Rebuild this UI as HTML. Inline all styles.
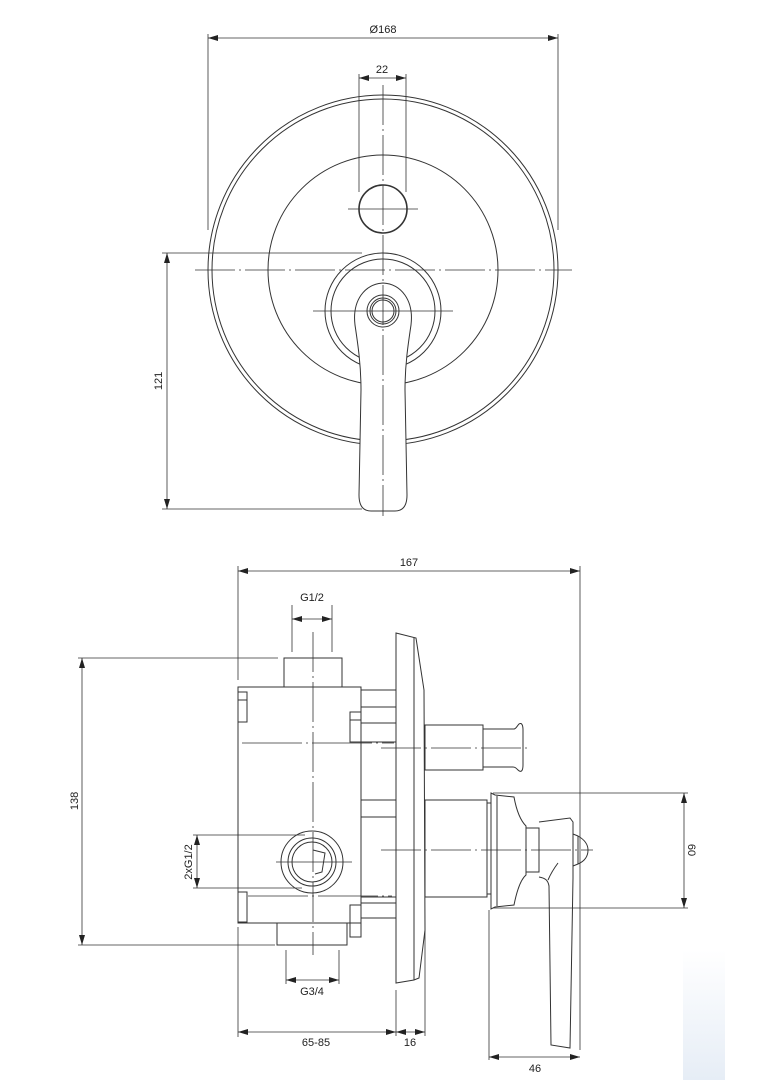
<!DOCTYPE html>
<html><head><meta charset="utf-8"><style>
html,body{margin:0;padding:0;background:#fff;}
svg{display:block;}
text{font-family:"Liberation Sans",sans-serif;font-size:11px;fill:#222;}
</style></head><body>
<svg width="772" height="1080" viewBox="0 0 772 1080" xmlns="http://www.w3.org/2000/svg">
<defs>
<marker id="a" viewBox="0 0 10 6" refX="10" refY="3" markerWidth="10" markerHeight="6" orient="auto-start-reverse" markerUnits="userSpaceOnUse"><path d="M0,0 L10,3 L0,6 z" fill="#222"/></marker>
<linearGradient id="wm" x1="0" y1="0" x2="0" y2="1"><stop offset="0" stop-color="#fff"/><stop offset="1" stop-color="#e6edf6"/></linearGradient>
</defs>
<rect x="683" y="950" width="42" height="130" fill="url(#wm)"/>
<g fill="none" stroke="#333" stroke-width="1">
<!-- TOP VIEW -->
<circle cx="383" cy="270" r="175"/>
<circle cx="383" cy="270" r="171"/>
<circle cx="383" cy="270" r="115"/>
<circle cx="383" cy="209" r="24" stroke-width="1.6"/>
<circle cx="383" cy="311" r="58"/>
<circle cx="383" cy="311" r="52"/>
<path d="M355,325 C352,300 365,284 383,283 C401,284 414,300 411,325 C408,345 405,365 405,390 L407,495 C407,507 402,511 395,511 L371,511 C364,511 359,507 359,495 L361,390 C361,365 358,345 355,325 Z" fill="#fff"/>
<circle cx="383" cy="311" r="16"/>
<circle cx="383" cy="311" r="13"/>
<circle cx="383" cy="311" r="11"/>
<g stroke-width="0.8">
<line x1="383" y1="85" x2="383" y2="516" stroke-dasharray="40,4,2,4"/>
<line x1="195" y1="270" x2="572" y2="270" stroke-dasharray="40,4,2,4"/>
<line x1="348" y1="209" x2="418" y2="209"/>
<line x1="313" y1="311" x2="453" y2="311"/>
</g>
<g stroke-width="0.8">
<line x1="208" y1="34" x2="208" y2="230"/>
<line x1="558" y1="34" x2="558" y2="230"/>
<line x1="208" y1="38" x2="558" y2="38" marker-start="url(#a)" marker-end="url(#a)"/>
<line x1="359" y1="74" x2="359" y2="192"/>
<line x1="406" y1="74" x2="406" y2="192"/>
<line x1="359" y1="78" x2="406" y2="78" marker-start="url(#a)" marker-end="url(#a)"/>
<line x1="162" y1="253" x2="362" y2="253"/>
<line x1="162" y1="509" x2="362" y2="509"/>
<line x1="167" y1="253" x2="167" y2="509" marker-start="url(#a)" marker-end="url(#a)"/>
</g>

<!-- BOTTOM VIEW -->
<rect x="284" y="658" width="58" height="29"/>
<rect x="238" y="687" width="123" height="236"/>
<rect x="277" y="923" width="70" height="22"/>
<rect x="238" y="692" width="9" height="30"/>
<line x1="238" y1="700" x2="247" y2="700"/>
<rect x="238" y="892" width="9" height="30"/>
<rect x="350" y="712" width="11" height="30"/>
<line x1="350" y1="720" x2="361" y2="720"/>
<rect x="350" y="905" width="11" height="32"/>
<line x1="361" y1="690" x2="396" y2="690"/>
<line x1="361" y1="707" x2="396" y2="707"/>
<line x1="361" y1="723" x2="396" y2="723"/>
<line x1="361" y1="742" x2="396" y2="742"/>
<line x1="361" y1="800" x2="396" y2="800"/>
<line x1="361" y1="817" x2="396" y2="817"/>
<line x1="361" y1="897" x2="396" y2="897"/>
<line x1="361" y1="903" x2="396" y2="903"/>
<line x1="361" y1="918" x2="396" y2="918"/>
<circle cx="312" cy="862" r="31" fill="#fff"/>
<circle cx="312" cy="862" r="24"/>
<circle cx="312" cy="862" r="20"/>
<path d="M313,850 L325,853 L322,872 L315,874"/>
<path d="M396,633 L416,638 L424,690 L425,930 L419,978 L414,980 L396,983 Z" fill="#fff"/>
<line x1="414" y1="638" x2="414" y2="980"/>
<rect x="425" y="725" width="58" height="45"/>
<path d="M483,729 L514,729 C516,729 517,726 519,724 C522,722 523,726 523,730 L523,765 C523,771 521,773 518,770 C516,768 515,767 513,767 L483,767"/>
<rect x="425" y="800" width="62" height="97"/>
<rect x="487" y="803" width="4" height="91"/>
<path d="M491,793 L495,795 L514,797 C516,808 520,820 526,826 L526,875 C520,880 516,895 514,905 L495,907 L491,909 Z"/>
<line x1="497" y1="796" x2="497" y2="906"/>
<rect x="526" y="828" width="13" height="44"/>
<path d="M539,822 L570,818 L573,822 L573,878 L570,1048 L551,1045 L549,886 C548,880 545,878 539,877"/>
<path d="M548,880 C551,873 555,867 558,863"/>
<path d="M573,834 L578,836 C585,840 588,845 588,850 C588,856 585,861 578,864 L573,866"/>
<line x1="578" y1="836" x2="578" y2="864"/>
<g stroke-width="0.8">
<line x1="313" y1="632" x2="313" y2="955" stroke-dasharray="40,4,2,4"/>
<line x1="242" y1="743" x2="394" y2="743" stroke-dasharray="60,4,2,4"/>
<line x1="381" y1="748" x2="528" y2="748" stroke-dasharray="40,4,2,4"/>
<line x1="381" y1="850" x2="593" y2="850" stroke-dasharray="40,4,2,4"/>
<line x1="248" y1="896" x2="392" y2="896" stroke-dasharray="60,4,2,4"/>
<line x1="276" y1="862" x2="352" y2="862"/>
</g>
<g stroke-width="0.8">
<line x1="238" y1="566" x2="238" y2="680"/>
<line x1="238" y1="927" x2="238" y2="1037"/>
<line x1="580" y1="566" x2="580" y2="1050"/>
<line x1="238" y1="571" x2="580" y2="571" marker-start="url(#a)" marker-end="url(#a)"/>
<line x1="292" y1="605" x2="292" y2="652"/>
<line x1="332" y1="605" x2="332" y2="652"/>
<line x1="292" y1="619" x2="332" y2="619" marker-start="url(#a)" marker-end="url(#a)"/>
<line x1="78" y1="658" x2="278" y2="658"/>
<line x1="78" y1="945" x2="275" y2="945"/>
<line x1="82" y1="658" x2="82" y2="945" marker-start="url(#a)" marker-end="url(#a)"/>
<line x1="193" y1="835" x2="305" y2="835"/>
<line x1="193" y1="888" x2="302" y2="888"/>
<line x1="197" y1="835" x2="197" y2="888" marker-start="url(#a)" marker-end="url(#a)"/>
<line x1="286" y1="950" x2="286" y2="984"/>
<line x1="339" y1="950" x2="339" y2="984"/>
<line x1="286" y1="980" x2="339" y2="980" marker-start="url(#a)" marker-end="url(#a)"/>
<line x1="396" y1="990" x2="396" y2="1036"/>
<line x1="425" y1="930" x2="425" y2="1036"/>
<line x1="238" y1="1032" x2="396" y2="1032" marker-start="url(#a)" marker-end="url(#a)"/>
<line x1="396" y1="1032" x2="425" y2="1032" marker-start="url(#a)" marker-end="url(#a)"/>
<line x1="489" y1="910" x2="489" y2="1060"/>
<line x1="489" y1="1057" x2="580" y2="1057" marker-start="url(#a)" marker-end="url(#a)"/>
<line x1="493" y1="793" x2="688" y2="793"/>
<line x1="493" y1="908" x2="688" y2="908"/>
<line x1="684" y1="793" x2="684" y2="908" marker-start="url(#a)" marker-end="url(#a)"/>
</g>
</g>
<text x="383" y="33" text-anchor="middle">Ø168</text>
<text x="382" y="73" text-anchor="middle">22</text>
<text transform="translate(162,381) rotate(-90)" text-anchor="middle">121</text>
<text x="409" y="566" text-anchor="middle">167</text>
<text x="312" y="601" text-anchor="middle">G1/2</text>
<text transform="translate(78,801) rotate(-90)" text-anchor="middle">138</text>
<text transform="translate(192,862) rotate(-90)" text-anchor="middle">2xG1/2</text>
<text x="312" y="995" text-anchor="middle">G3/4</text>
<text x="316" y="1046" text-anchor="middle">65-85</text>
<text x="410" y="1046" text-anchor="middle">16</text>
<text x="535" y="1072" text-anchor="middle">46</text>
<text transform="translate(688,850) rotate(90)" text-anchor="middle">60</text>
</svg>
</body></html>
